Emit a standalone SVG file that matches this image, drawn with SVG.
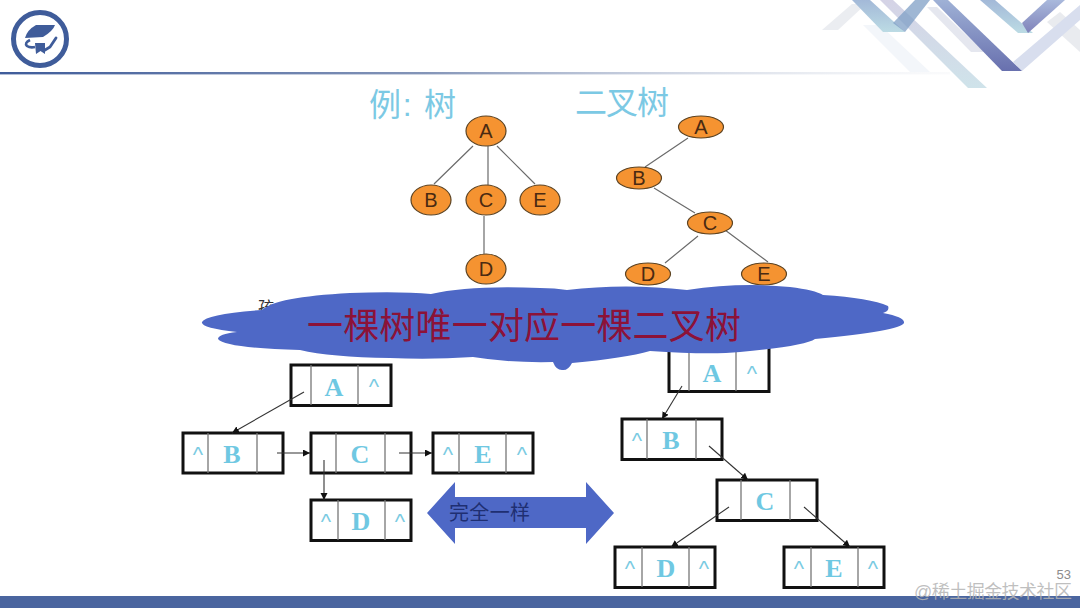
<svg xmlns="http://www.w3.org/2000/svg" width="1080" height="608" viewBox="0 0 1080 608">
<style>
.cjk{font-family:"Liberation Sans","Noto Sans CJK SC",sans-serif}
.title{font-size:32px;fill:#7cc9e4}
.ov{fill:#f59331;stroke:#5c4322;stroke-width:1.2}
.ol{font-family:"Liberation Sans",sans-serif;font-size:20px;fill:#4a2a12;text-anchor:middle}
.tl{stroke:#6b6b6b;stroke-width:1.2;fill:none}
.box{fill:#fff;stroke:#111;stroke-width:3}
.div{stroke:#777;stroke-width:1.3}
.let{font-family:"Liberation Serif",serif;font-weight:bold;font-size:26px;fill:#6fc8e2;text-anchor:middle}
.car{font-family:"Liberation Sans",sans-serif;font-size:22px;fill:#7ccbe2;text-anchor:middle}
.arr{stroke:#333;stroke-width:1.1;fill:none;marker-end:url(#ah)}
</style>
<defs>
<marker id="ah" markerWidth="8" markerHeight="8" refX="7" refY="3.5" orient="auto" markerUnits="userSpaceOnUse"><path d="M0 0L7 3.5L0 7Z" fill="#111"/></marker>
<linearGradient id="hl" x1="0" x2="1" y1="0" y2="0"><stop offset="0" stop-color="#3f5c9a"/><stop offset="0.45" stop-color="#8495b8"/><stop offset="1" stop-color="#e6e9ef" stop-opacity="0.2"/></linearGradient>
<linearGradient id="b3" x1="0" x2="0" y1="0" y2="1"><stop offset="0" stop-color="#d5d3e6"/><stop offset="1" stop-color="#cfe3ea"/></linearGradient>
<linearGradient id="b4" x1="0" x2="0" y1="0" y2="1"><stop offset="0" stop-color="#9fb1d6"/><stop offset="1" stop-color="#6870ae"/></linearGradient>
<linearGradient id="b1" x1="0" x2="0" y1="0" y2="1"><stop offset="0" stop-color="#a3b9d8"/><stop offset="1" stop-color="#bcdbe4"/></linearGradient>
<linearGradient id="b6" x1="0" x2="0" y1="0" y2="1"><stop offset="0" stop-color="#a9b9dc"/><stop offset="1" stop-color="#8083ba"/></linearGradient>
</defs>
<rect width="1080" height="608" fill="#fff"/>

<g id="decor">
<polygon points="863,25 880,25 930,72 910,72" fill="#f3f6fa"/>
<polygon points="822,30 852,4 866,4 838,30" fill="#ebedf1"/>
<polygon points="927,7 937,7 984,52 971,52" fill="#e5e7ef"/>
<polygon points="1047,22 1060,12 1080,30 1080,52" fill="#e9ebef"/>
<polygon points="880,0 893,0 987,88 968,88" fill="url(#b3)"/>
<polygon points="852,0 870,0 905,32 883,32" fill="url(#b1)"/>
<polygon points="893,23 915,0 930,0 905,32" fill="#7f9fc6" fill-opacity="0.75"/>
<polygon points="1013,62 1080,5 1080,20 1022,71" fill="#d8deee"/>
<polygon points="980,0 995,0 1033,33 1018,33" fill="url(#b1)"/>
<polygon points="1022,23 1047,0 1065,0 1028,33" fill="url(#b6)"/>
<polygon points="933,0 948,0 1022,71 1002,71" fill="url(#b4)"/>
</g>

<g id="header">
<rect x="0" y="72" width="950" height="2.4" fill="url(#hl)"/>
</g>
<g id="logo">
<circle cx="40" cy="39" r="26.500" fill="#fff" stroke="#3f5c9a" stroke-width="5"/>
<path d="M25 38Q27 30 36 25L55 25Q53 31 43 37Z" fill="#3f5c9a"/>
<path d="M30 40Q24 43 27 46Q30 48 35 47" fill="none" stroke="#3f5c9a" stroke-width="2.600"/>
<path d="M35 43L45 43L45 54L40.500 51L36 54Z" fill="#3f5c9a"/>
<path d="M45 50L50 47L56 38" fill="none" stroke="#3f5c9a" stroke-width="2.800" stroke-linecap="round"/>
</g>

<g id="titles">
<text class="cjk title" x="369" y="116" textLength="87">例: 树</text>
<text class="cjk title" x="575" y="114" textLength="94">二叉树</text>
</g>

<g id="tree-connectors">
<path class="tl" d="M473 146L434 184M488 146V185M497 146L535 184M484 216V254M688 138L645 167M654 188L695 213M698 236L665 263M725 230L768 262"/>
</g>
<g id="t1-A"><ellipse class="ov" cx="486" cy="131" rx="20" ry="15"/><text class="ol" x="486" y="138">A</text></g>
<g id="t1-B"><ellipse class="ov" cx="431" cy="200" rx="20" ry="15"/><text class="ol" x="431" y="207">B</text></g>
<g id="t1-C"><ellipse class="ov" cx="486" cy="200" rx="20" ry="15"/><text class="ol" x="486" y="207">C</text></g>
<g id="t1-E"><ellipse class="ov" cx="540" cy="200" rx="20" ry="15"/><text class="ol" x="540" y="207">E</text></g>
<g id="t1-D"><ellipse class="ov" cx="486" cy="269" rx="20" ry="15"/><text class="ol" x="486" y="276">D</text></g>
<g id="t2-A"><ellipse class="ov" cx="701" cy="127" rx="22.500" ry="11"/><text class="ol" x="701" y="134">A</text></g>
<g id="t2-B"><ellipse class="ov" cx="639" cy="178" rx="22.500" ry="11"/><text class="ol" x="639" y="185">B</text></g>
<g id="t2-C"><ellipse class="ov" cx="710" cy="223" rx="22.500" ry="11"/><text class="ol" x="710" y="230">C</text></g>
<g id="t2-D"><ellipse class="ov" cx="648" cy="274" rx="22.500" ry="11"/><text class="ol" x="648" y="281">D</text></g>
<g id="t2-E"><ellipse class="ov" cx="764" cy="274" rx="22.500" ry="11"/><text class="ol" x="764" y="281">E</text></g>

<text class="cjk" x="258" y="313" font-size="16" fill="#333">孩</text>

<g id="list-left-A"><rect class="box" x="291" y="365" width="100" height="40.500"/><path class="div" d="M311 365V405M358 365V405"/><text class="let" x="334" y="396">A</text><text class="car" x="374" y="394">^</text></g>
<g id="list-left-B"><rect class="box" x="183" y="433" width="100" height="40"/><path class="div" d="M208 433V473M257 433V473"/><text class="let" x="232" y="463">B</text><text class="car" x="198" y="462">^</text></g>
<g id="list-left-C"><rect class="box" x="311" y="433" width="100" height="40"/><path class="div" d="M336 433V473M385 433V473"/><text class="let" x="360" y="463">C</text></g>
<g id="list-left-E"><rect class="box" x="433" y="433" width="100" height="40"/><path class="div" d="M459 433V473M506 433V473"/><text class="let" x="483" y="463">E</text><text class="car" x="448" y="462">^</text><text class="car" x="522" y="462">^</text></g>
<g id="list-left-D"><rect class="box" x="311" y="500" width="100" height="40.500"/><path class="div" d="M338 500V540M385 500V540"/><text class="let" x="361" y="530">D</text><text class="car" x="326" y="529">^</text><text class="car" x="400" y="529">^</text></g>

<g id="list-right-A"><rect class="box" x="669" y="345" width="100" height="46.500"/><path class="div" d="M689 345V391M736 345V391"/><text class="let" x="712" y="382">A</text><text class="car" x="752" y="381">^</text></g>
<g id="list-right-B"><rect class="box" x="622" y="419" width="100" height="40.500"/><path class="div" d="M647 419V459M696 419V459"/><text class="let" x="671" y="449">B</text><text class="car" x="637" y="448">^</text></g>
<g id="list-right-C"><rect class="box" x="717" y="480" width="100" height="40.500"/><path class="div" d="M741 480V520M790 480V520"/><text class="let" x="765" y="510">C</text></g>
<g id="list-right-D"><rect class="box" x="615" y="547" width="100" height="40.500"/><path class="div" d="M642 547V587M689 547V587"/><text class="let" x="666" y="577">D</text><text class="car" x="630" y="576">^</text><text class="car" x="704" y="576">^</text></g>
<g id="list-right-E"><rect class="box" x="784" y="547" width="100" height="40.500"/><path class="div" d="M811 547V587M858 547V587"/><text class="let" x="834" y="577">E</text><text class="car" x="799" y="576">^</text><text class="car" x="873" y="576">^</text></g>

<g id="connectors">
<path class="arr" d="M304 392L232 433"/>
<path class="arr" d="M277 453H310"/>
<path class="arr" d="M399 453H432"/>
<path class="arr" d="M324 460V500"/>
<path class="arr" d="M682 386L662 419"/>
<path class="arr" d="M709 446L748 480"/>
<path class="arr" d="M729 507L671 547"/>
<path class="arr" d="M804 507L850 547"/>
</g>

<g id="cloud">
<path d="M202 322Q206 314 262 310Q275 297 350 293Q400 291 431 294Q470 285 540 288Q555 288 567 290Q625 283 687 290Q740 282 790 287Q815 290 823 295Q870 298 888 306Q890 311 883 313Q905 317 904 323Q900 331 815 339Q805 346 740 352Q710 355 650 351Q625 358 572 363Q568 371 562 370Q556 370 553 362Q510 363 473 357Q430 360 390 358Q330 357 300 350Q225 348 218 339Q218 334 237 332Q200 328 202 322Z" fill="#4e68c6"/>
<text class="cjk" x="307" y="339" font-size="36" textLength="434" fill="#8c1238">一棵树唯一对应一棵二叉树</text>
</g>

<g id="double-arrow">
<polygon points="427,513 455,482 455,497 586,497 586,482 614,513 586,544 586,528 455,528 455,544" fill="#4e68c6"/>
<text class="cjk" x="449" y="520" font-size="20" textLength="81" fill="#1f2f72">完全一样</text>
</g>

<g id="footer">
<rect x="0" y="596" width="1080" height="12" fill="#4a659f"/>
<text x="1071" y="579" font-family="Liberation Sans,sans-serif" font-size="13" fill="#8c8c8c" text-anchor="end">53</text>
<text class="cjk" x="914" y="598" font-size="18" textLength="158" lengthAdjust="spacing" fill="#b4b4b4" fill-opacity="0.85">@稀土掘金技术社区</text>
</g>
</svg>
